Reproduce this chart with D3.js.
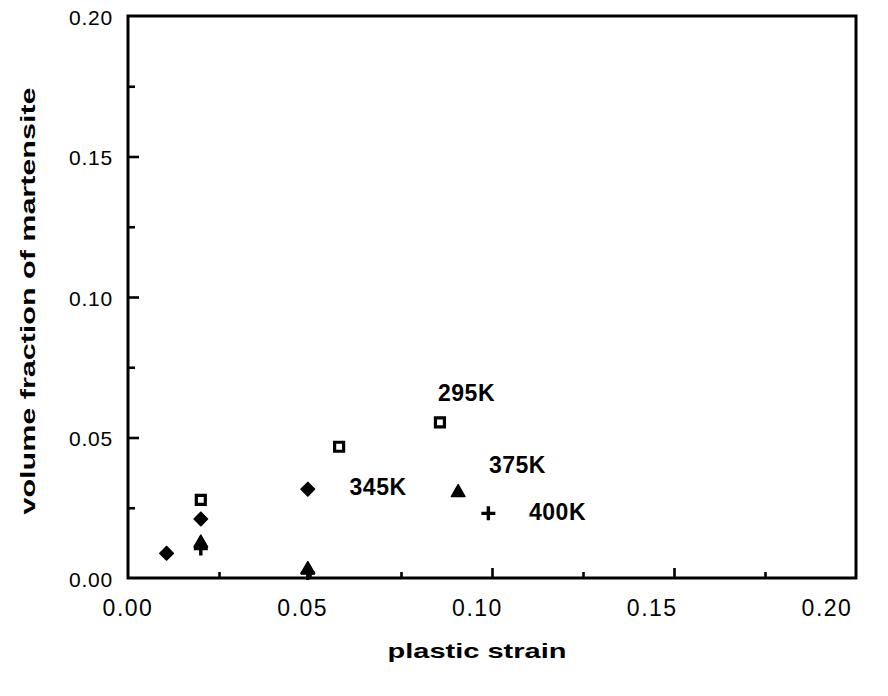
<!DOCTYPE html>
<html>
<head>
<meta charset="utf-8">
<script src="https://cdn.jsdelivr.net/npm/d3@7"></script>
<style>
  body { margin: 0; background: #fff; }
  svg { display: block; }
</style>
</head>
<body>
<svg id="chart" width="888" height="696"></svg>
<script>
// ---- data ----
const xTicks = [0, 0.05, 0.10, 0.15, 0.20];
const yTicks = [0, 0.05, 0.10, 0.15, 0.20];
const xMinorTicks = [0.025, 0.075, 0.125, 0.175];
const yMinorTicks = [0.025, 0.075, 0.125, 0.175];

const k295Strain = [0.020, 0.058, 0.0857];
const k295Frac   = [0.0278, 0.0467, 0.0554];

const k345Strain = [0.0106, 0.020, 0.0494];
const k345Frac   = [0.0088, 0.021, 0.0316];

const k375Strain = [0.020, 0.0494, 0.0907];
const k375Frac   = [0.0125, 0.003, 0.0304];

const k400Strain = [0.020, 0.0494, 0.099];
const k400Frac   = [0.0105, 0.0018, 0.023];

const seriesNames = ["295K", "345K", "375K", "400K"];
const labelStrain = [0.093, 0.0687, 0.107, 0.118];
const labelFrac   = [0.0658, 0.0325, 0.0402, 0.0236];

const xTitle = "plastic strain";
const yTitle = "volume fraction of martensite";

// ---- layout ----
const svg = d3.select("#chart");
const L = 128, R = 856, T = 16, B = 578;
const x = d3.scaleLinear().domain([0, 0.2]).range([L, R]);
const y = d3.scaleLinear().domain([0, 0.2]).range([B, T]);
// tick labels on the original were typeset on a slightly narrower grid
const xLab = d3.scaleLinear().domain([0, 0.2]).range([128, 827]);
const fmt = d3.format(".2f");
const FONT = "'Liberation Sans', Arial, Helvetica, sans-serif";

// frame
svg.append("rect")
  .attr("x", L).attr("y", T).attr("width", R - L).attr("height", B - T)
  .attr("fill", "none").attr("stroke", "#000").attr("stroke-width", 3);

// bottom axis ticks (inward)
const xAxis = svg.append("g").attr("transform", `translate(0,${B})`)
  .call(d3.axisTop(x).tickValues(xTicks.slice(1, -1)).tickSize(10).tickFormat(""));
const xAxisMinor = svg.append("g").attr("transform", `translate(0,${B})`)
  .call(d3.axisTop(x).tickValues(xMinorTicks).tickSize(6).tickFormat(""));
// left axis ticks (inward)
const yAxis = svg.append("g").attr("transform", `translate(${L},0)`)
  .call(d3.axisRight(y).tickValues(yTicks.slice(1, -1)).tickSize(11).tickFormat(""));
const yAxisMinor = svg.append("g").attr("transform", `translate(${L},0)`)
  .call(d3.axisRight(y).tickValues(yMinorTicks).tickSize(7).tickFormat(""));
[xAxis, xAxisMinor, yAxis, yAxisMinor].forEach(g => {
  g.select(".domain").remove();
  g.selectAll("line").attr("stroke", "#000").attr("stroke-width", 2.6);
});

// y tick labels
svg.append("g").selectAll("text").data(yTicks).join("text")
  .attr("x", 113).attr("y", d => y(d) + 1).attr("dy", "0.36em")
  .attr("text-anchor", "end")
  .attr("font-family", FONT).attr("font-size", 21).attr("letter-spacing", 0.8)
  .text(fmt);

// x tick labels
svg.append("g").selectAll("text").data(xTicks).join("text")
  .attr("x", d => xLab(d)).attr("y", 616)
  .attr("text-anchor", "middle")
  .attr("font-family", FONT).attr("font-size", 23).attr("letter-spacing", 1.5)
  .text(fmt);

// axis titles
svg.append("text")
  .attr("x", 477).attr("y", 658).attr("text-anchor", "middle")
  .attr("font-family", FONT).attr("font-size", 21).attr("font-weight", "bold")
  .attr("textLength", 179).attr("lengthAdjust", "spacingAndGlyphs")
  .text(xTitle);
svg.append("text")
  .attr("transform", "translate(35,301) rotate(-90)")
  .attr("text-anchor", "middle")
  .attr("font-family", FONT).attr("font-size", 21).attr("font-weight", "bold")
  .attr("textLength", 427).attr("lengthAdjust", "spacingAndGlyphs")
  .text(yTitle);

// ---- markers ----
const plot = svg.append("g");
const pts = (xs, ys) => xs.map((v, i) => [v, ys[i]]);

plot.selectAll(".p400").data(pts(k400Strain, k400Frac)).join("path")
  .attr("class", "p400")
  .attr("transform", d => `translate(${x(d[0])},${y(d[1])})`)
  .attr("d", "M-7,0H7M0,-7V7")
  .attr("stroke", "#000").attr("stroke-width", 3.4).attr("fill", "none");

plot.selectAll(".p375").data(pts(k375Strain, k375Frac)).join("path")
  .attr("class", "p375")
  .attr("transform", d => `translate(${x(d[0])},${y(d[1])})`)
  .attr("d", d3.symbol(d3.symbolTriangle, 80)())
  .attr("fill", "#000").attr("stroke", "#000").attr("stroke-width", 1.5)
  .attr("stroke-linejoin", "round");

plot.selectAll(".p345").data(pts(k345Strain, k345Frac)).join("path")
  .attr("class", "p345")
  .attr("transform", d => `translate(${x(d[0])},${y(d[1])}) rotate(45)`)
  .attr("d", d3.symbol(d3.symbolSquare, 100)())
  .attr("fill", "#000").attr("stroke", "#000").attr("stroke-width", 1)
  .attr("stroke-linejoin", "round");

plot.selectAll(".p295").data(pts(k295Strain, k295Frac)).join("path")
  .attr("class", "p295")
  .attr("transform", d => `translate(${x(d[0])},${y(d[1])})`)
  .attr("d", d3.symbol(d3.symbolSquare, 81)())
  .attr("fill", "#fff").attr("stroke", "#000").attr("stroke-width", 3.2);

// series labels
svg.append("g").selectAll("text").data(seriesNames).join("text")
  .attr("x", (d, i) => x(labelStrain[i]))
  .attr("y", (d, i) => y(labelFrac[i]))
  .attr("dy", "0.36em")
  .attr("text-anchor", "middle")
  .attr("font-family", FONT).attr("font-size", 23).attr("font-weight", "bold")
  .attr("letter-spacing", 0.5)
  .text(d => d);
</script>
</body>
</html>
